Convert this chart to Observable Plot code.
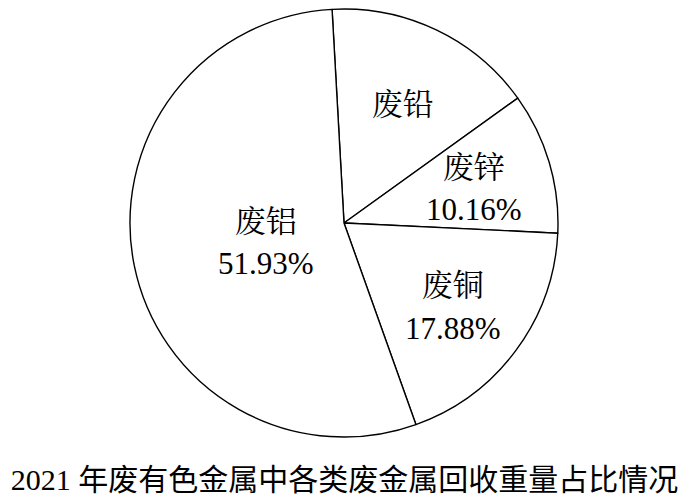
<!DOCTYPE html>
<html>
<head>
<meta charset="utf-8">
<script src="https://cdn.jsdelivr.net/npm/d3@7"></script>
<script src="https://cdn.jsdelivr.net/npm/@observablehq/plot@0.6"></script>
<style>
  body { margin: 0; background: #fff; }
  #title {
    font-family: "Liberation Serif", "Noto Sans CJK SC";
    font-size: 30px;
    text-align: center;
    width: 689px;
    line-height: 34px;
    padding-top: 17px;
    color: #000;
    white-space: nowrap;
  }
</style>
</head>
<body>
<div id="chart"></div>
<div id="title"></div>
<script>
// ---- data ----
const categories = ["废铅", "废锌", "废铜", "废铝"];
const values = [15.2, 10.16, 17.88, 51.93];
const showPercent = [false, true, true, true];
const titleText = "2021 年废有色金属中各类废金属回收重量占比情况";

// ---- layout ----
const W = 689, H = 446, CX = 344, CY = 223, R = 214;
const startDeg = -3.2;

const rows = categories.map((name, i) => ({name, value: values[i], showPercent: showPercent[i]}));
const a0 = startDeg * Math.PI / 180;
const arcs = d3.pie().sort(null).value(d => d.value).startAngle(a0).endAngle(a0 + 2 * Math.PI)(rows);

const labelRadius = d => (d.data.value > 40 ? 0.375 : 0.63);
const midAngle = d => (d.startAngle + d.endAngle) / 2;

function wedges(index, scales) {
  const cx = scales.x(0), cy = scales.y(0);
  const r = Math.abs(scales.x(1) - scales.x(0));
  const g = d3.create("svg:g").attr("transform", `translate(${cx},${cy})`);
  const arc = d3.arc().innerRadius(0).outerRadius(r);
  g.selectAll("path")
    .data(arcs)
    .join("path")
    .attr("d", arc)
    .attr("fill", "white")
    .attr("stroke", "black")
    .attr("stroke-width", 1.4)
    .attr("stroke-linejoin", "round");
  return g.node();
}

const chart = Plot.plot({
  width: W,
  height: H,
  margin: 0,
  style: {background: "white"},
  x: {domain: [-1, 1], range: [CX - R, CX + R], axis: null},
  y: {domain: [-1, 1], range: [CY - R, CY + R], axis: null},
  marks: [
    wedges,
    Plot.text(arcs, {
      x: d => labelRadius(d) * Math.sin(midAngle(d)),
      y: d => -labelRadius(d) * Math.cos(midAngle(d)),
      text: d => d.data.showPercent ? `${d.data.name}\n${d.data.value.toFixed(2)}%` : d.data.name,
      fontSize: 31,
      fontFamily: "Liberation Serif, Noto Serif CJK SC, Noto Sans CJK SC",
      lineHeight: 1.37,
      fill: "black"
    })
  ]
});
document.getElementById("chart").appendChild(chart);
document.getElementById("title").textContent = titleText;
</script>
</body>
</html>
